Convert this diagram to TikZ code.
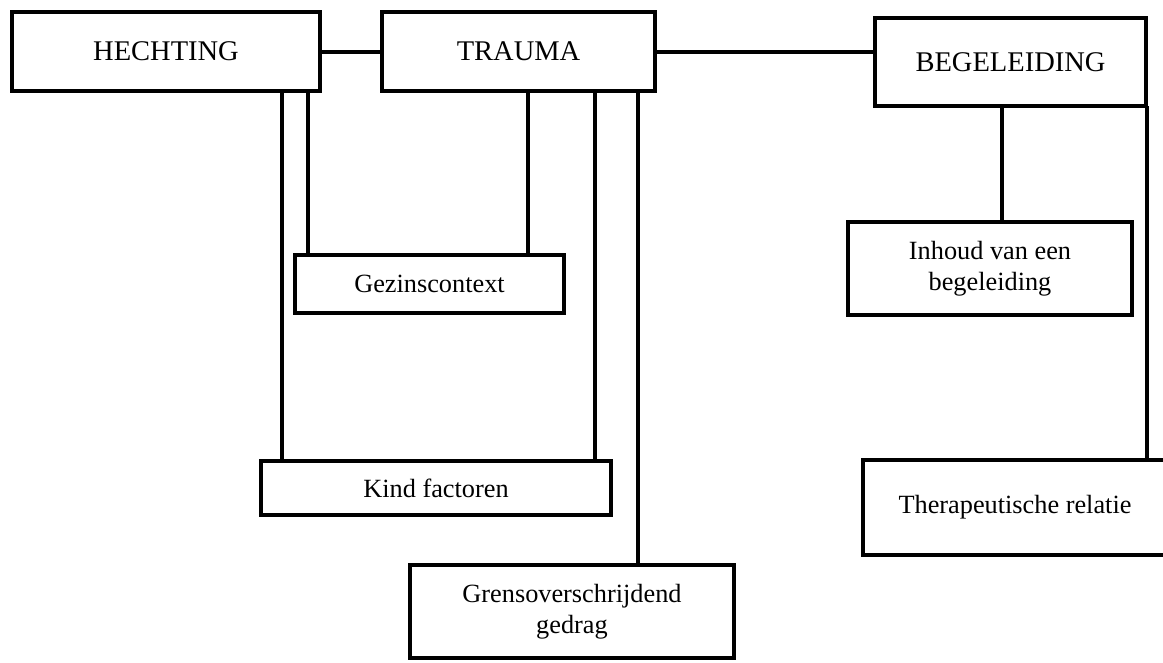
\documentclass[tikz,border=0pt]{standalone}
\usepackage{fontspec}
\setmainfont{Liberation Serif}

\begin{document}
\begin{tikzpicture}[x=1pt, y=-1pt, line width=4pt,
  hoofd/.style={draw, inner sep=0pt, outer sep=0pt, align=center,
    font=\fontsize{28.5}{33}\selectfont},
  thema/.style={draw, inner sep=0pt, outer sep=0pt, align=center,
    font=\fontsize{26.3}{30.5}\selectfont}]

\useasboundingbox (0,0) rectangle (1163,662);

\node[hoofd, minimum width=308pt, minimum height=79pt] (hech) at (166,51.5) {HECHTING};
\node[hoofd, minimum width=273pt, minimum height=79pt] (trau) at (518.5,51.5) {TRAUMA};
\node[hoofd, minimum width=271pt, minimum height=88pt] (bege) at (1010.5,62) {BEGELEIDING};

\node[thema, minimum width=269pt, minimum height=58pt] (gezi) at (429.5,284) {Gezinscontext};
\node[thema, minimum width=350pt, minimum height=54pt] (kind) at (436,488) {Kind factoren};
\node[thema, minimum width=324pt, minimum height=93pt] (gren) at (572,611.5) {Grensoverschrijdend\\gedrag};
\node[thema, minimum width=284pt, minimum height=93pt] (inho) at (990,268.5) {Inhoud van een\\begeleiding};
\node[thema, minimum width=304pt, minimum height=95pt] (ther) at (1015,507.5) {Therapeutische relatie};

\coordinate (h1) at (282, 0);
\coordinate (h2) at (308, 0);
\coordinate (t1) at (528, 0);
\coordinate (t2) at (595, 0);
\coordinate (t3) at (638, 0);
\coordinate (b1) at (1002, 0);
\coordinate (b2) at (1147, 0);

\draw (hech.east) -- (trau.west);
\draw (trau.east) -- (trau.east -| bege.west);

\draw (hech.south -| h1) -- (kind.north -| h1);
\draw (hech.south -| h2) -- (gezi.north -| h2);
\draw (trau.south -| t1) -- (gezi.north -| t1);
\draw (trau.south -| t2) -- (kind.north -| t2);
\draw (trau.south -| t3) -- (gren.north -| t3);
\draw (bege.south -| b1) -- (inho.north -| b1);
\draw (bege.south -| b2) -- (ther.north -| b2);

\end{tikzpicture}
\end{document}
